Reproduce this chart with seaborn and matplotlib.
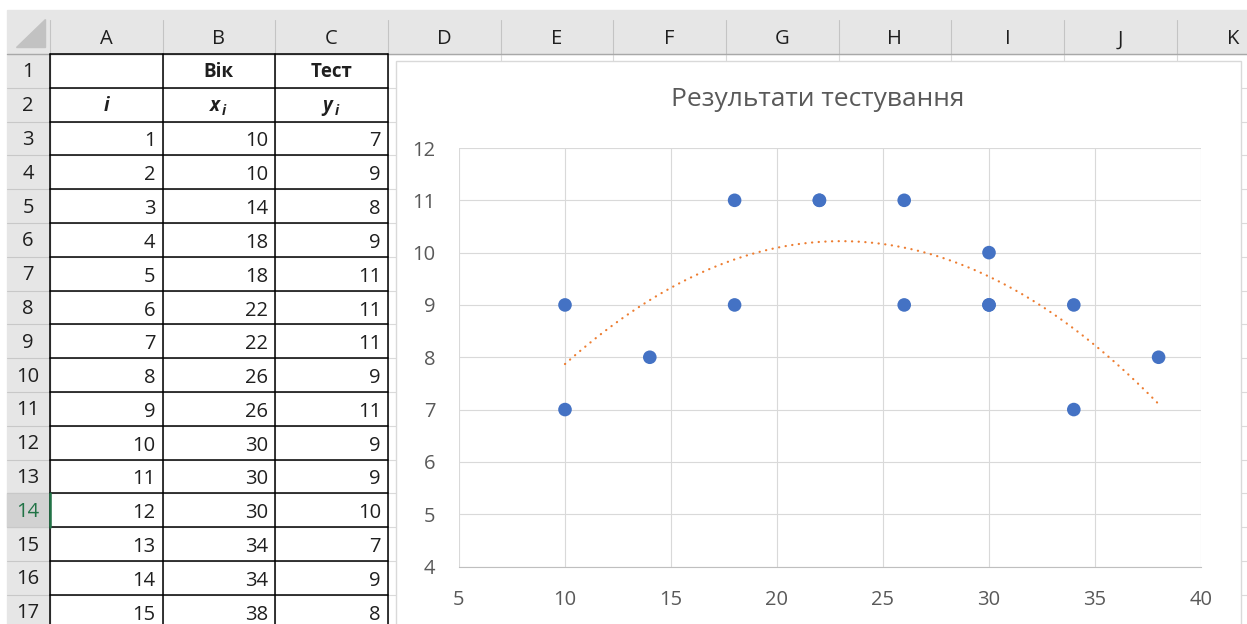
import numpy as np
import pandas as pd
import matplotlib
matplotlib.use("Agg")
import matplotlib.pyplot as plt
from matplotlib.patches import Rectangle, Polygon
import seaborn as sns

# ---- worksheet contents ----
row_index = list(range(1, 16))
age = [10, 10, 14, 18, 18, 22, 22, 26, 26, 30, 30, 30, 34, 34, 38]
score = [7, 9, 8, 9, 11, 11, 11, 9, 11, 9, 9, 10, 7, 9, 8]
col_letters = ["A", "B", "C", "D", "E", "F", "G", "H", "I", "J", "K"]
header_age = "Вік"
header_test = "Тест"
chart_title = "Результати тестування"
x_ticks = [5, 10, 15, 20, 25, 30, 35, 40]
y_ticks = [4, 5, 6, 7, 8, 9, 10, 11, 12]

df = pd.DataFrame({"i": row_index, "age": age, "score": score})

sns.set_theme(style="white")
plt.rcParams["font.family"] = ["Open Sans", "DejaVu Sans"]

W, H = 1247, 624
fig = plt.figure(figsize=(W / 100, H / 100), dpi=100)
fig.patch.set_facecolor("white")

# pixel-space canvas for the sheet grid
bg = fig.add_axes([0, 0, 1, 1], zorder=0)
bg.set_xlim(0, W)
bg.set_ylim(H, 0)
bg.axis("off")

col_edges = [50, 162.5, 275, 388, 500.5, 613, 726, 838.5, 951, 1064, 1176.5, 1289]
hdr_top, hdr_bot = 10, 54
row_h = 33.8
row_edges = [hdr_bot + k * row_h for k in range(18)]

grid_c = "#dadada"
hdr_c = "#e6e6e6"
txt_c = "#1f1f1f"

# sheet gridlines
for y in row_edges[1:]:
    bg.plot([50, W], [y, y], color=grid_c, lw=0.8, zorder=1)
for x in col_edges:
    bg.plot([x, x], [hdr_bot, H], color=grid_c, lw=0.8, zorder=1)

# column header strip and row header column
bg.add_patch(Rectangle((7, hdr_top), W - 7, hdr_bot - hdr_top, color=hdr_c, zorder=2))
bg.add_patch(Rectangle((7, hdr_bot), 50 - 7, H - hdr_bot, color=hdr_c, zorder=2))
# active row header (row 14)
bg.add_patch(Rectangle((7, row_edges[13]), 50 - 7, row_h, color="#d2d2d2", zorder=2))
for x in col_edges:
    bg.plot([x, x], [hdr_top + 10, hdr_bot], color="#c4c4c4", lw=0.8, zorder=3)
for y in row_edges[1:]:
    bg.plot([7, 50], [y, y], color="#c8c8c8", lw=0.8, zorder=3)
bg.plot([7, W], [hdr_bot, hdr_bot], color="#a8a8a8", lw=1.0, zorder=3)
bg.plot([50, 50], [hdr_bot, H], color="#b8b8b8", lw=0.8, zorder=3)
bg.add_patch(Polygon([(45, 19), (45, 47), (16, 47)], closed=True, color="#c2c2c2", zorder=3))

for k, letter in enumerate(col_letters):
    cx = (col_edges[k] + col_edges[k + 1]) / 2
    bg.text(cx, 39.5, letter, ha="center", va="center",
            fontsize=14.5, color=txt_c, zorder=4)
for r in range(1, 18):
    cy = (row_edges[r - 1] + row_edges[r]) / 2
    bg.text(28, cy + 1.5, str(r), ha="center", va="center", fontsize=14.5,
            color="#217346" if r == 14 else txt_c, zorder=4)
bg.plot([49.5, 49.5], [row_edges[13], row_edges[14]], color="#217346", lw=1.8, zorder=5)

# bordered table A1:C17
for y in row_edges:
    bg.plot([50, 388], [y, y], color="black", lw=1.1, zorder=4)
for x in col_edges[:4]:
    bg.plot([x, x], [hdr_bot, H], color="black", lw=1.1, zorder=4)

cA = (col_edges[0] + col_edges[1]) / 2
cB = (col_edges[1] + col_edges[2]) / 2
cC = (col_edges[2] + col_edges[3]) / 2
r1 = (row_edges[0] + row_edges[1]) / 2 + 1.5
r2 = (row_edges[1] + row_edges[2]) / 2 + 1.5
bg.text(cB, r1, header_age, ha="center", va="center", fontsize=13.5, fontweight="bold", color=txt_c, zorder=5)
bg.text(cC, r1, header_test, ha="center", va="center", fontsize=13.5, fontweight="bold", color=txt_c, zorder=5)
bg.text(cA, r2, "i", ha="center", va="center", fontsize=13.5, fontweight="bold", style="italic", color=txt_c, zorder=5)
for cx, var in ((cB, "x"), (cC, "y")):
    bg.text(cx + 1, r2 + 5, var, ha="right", va="baseline", fontsize=13.5, fontweight="bold",
            style="italic", color=txt_c, zorder=5)
    bg.text(cx + 3.5, r2 + 9, "i", ha="left", va="baseline", fontsize=10, fontweight="bold",
            style="italic", color=txt_c, zorder=5)

for n, (i_val, xv, yv) in enumerate(zip(row_index, age, score)):
    cy = (row_edges[n + 2] + row_edges[n + 3]) / 2 + 3
    for right, val in ((col_edges[1], i_val), (col_edges[2], xv), (col_edges[3], yv)):
        bg.text(right - 7, cy, str(val), ha="right", va="center", fontsize=14.5,
                color=txt_c, zorder=5)

# chart area
bg.add_patch(Rectangle((396, 61), 1241 - 396, H, facecolor="white",
                       edgecolor="#d9d9d9", lw=1.0, zorder=6))

# ---- scatter chart with quadratic trend ----
x0, x1, y0, y1 = 459, 1201, 566.5, 148
ax = fig.add_axes([x0 / W, (H - y0) / H, (x1 - x0) / W, (y0 - y1) / H], zorder=2)
ax.set_facecolor("none")

sns.regplot(data=df, x="age", y="score", order=2, ci=None, scatter=False, truncate=True, ax=ax,
            line_kws=dict(color="#ED7D31", lw=1.6, linestyle=(0, (0.1, 2.9)),
                          dash_capstyle="round", zorder=3))
sns.scatterplot(data=df, x="age", y="score", ax=ax, color="#4472C4", s=96,
                edgecolor="none", linewidth=0, zorder=4)

ax.set_xlim(x_ticks[0], x_ticks[-1])
ax.set_ylim(y_ticks[0], y_ticks[-1])
ax.set_xticks(x_ticks)
ax.set_yticks(y_ticks)
ax.set_xlabel("")
ax.set_ylabel("")
ax.grid(True, color="#d9d9d9", lw=0.8)
ax.set_axisbelow(True)
for side in ("left", "top", "right"):
    ax.spines[side].set_visible(False)
ax.spines["bottom"].set_color("#bfbfbf")
ax.spines["bottom"].set_linewidth(0.8)
ax.tick_params(axis="both", length=0, labelsize=14.5, labelcolor="#595959")
ax.tick_params(axis="y", pad=17)
ax.tick_params(axis="x", pad=17)

fig.text(818 / W, 1 - 99 / H, chart_title, ha="center", va="center",
         fontsize=19, color="#595959", zorder=10)

fig.savefig("out.png", dpi=100)
